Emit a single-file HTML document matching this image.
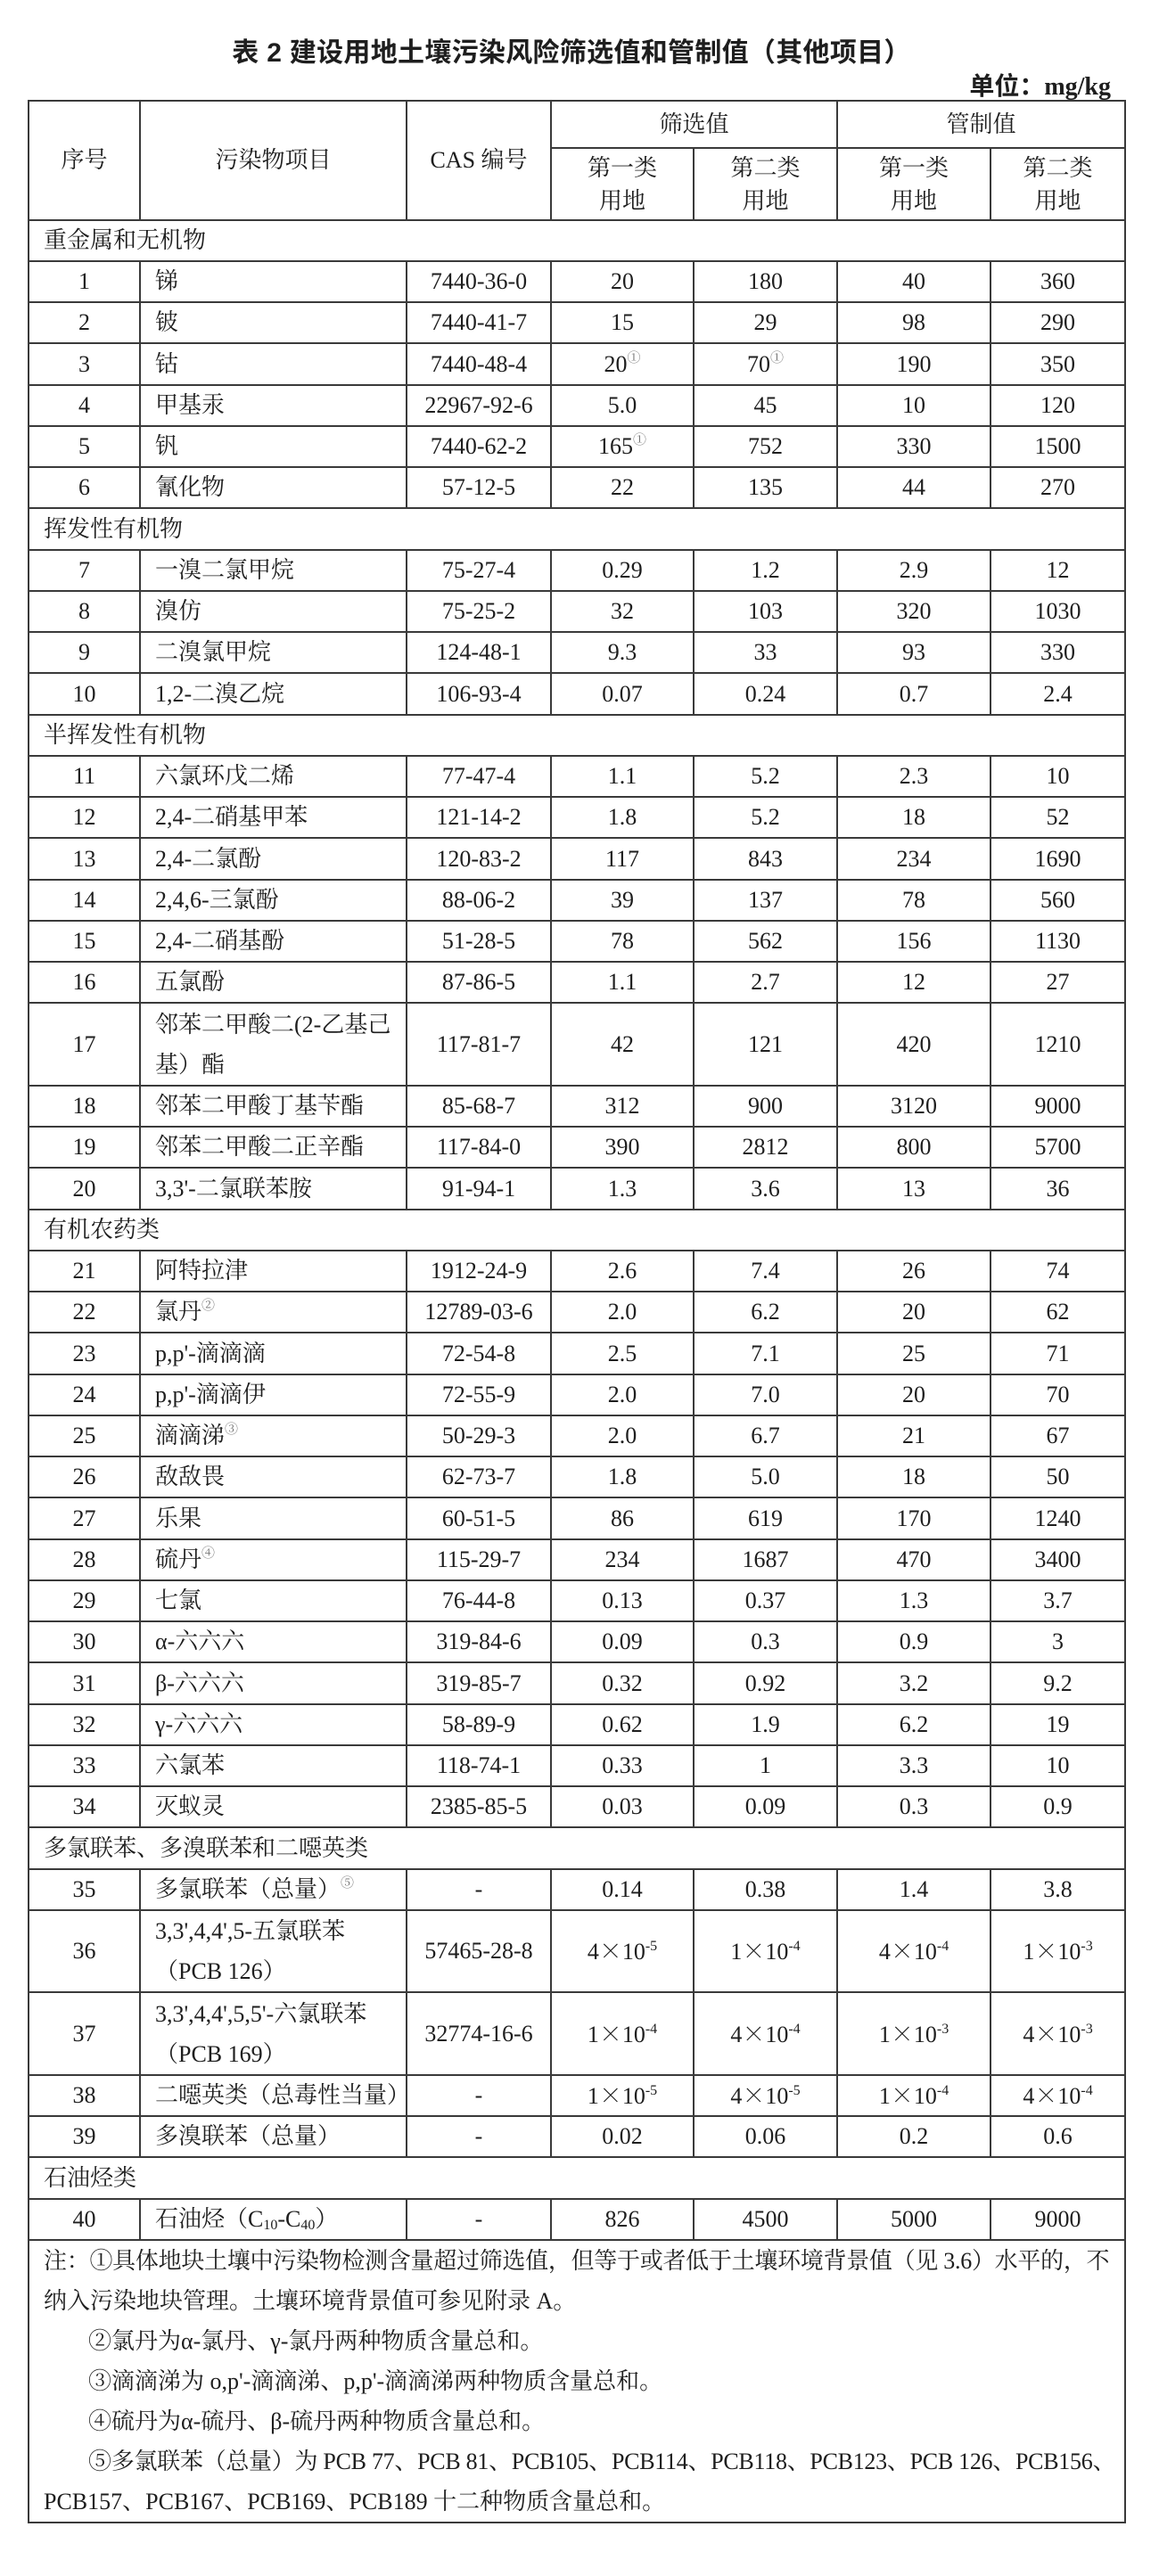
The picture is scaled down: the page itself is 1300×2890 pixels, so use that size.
<!DOCTYPE html>
<html lang="zh">
<head>
<meta charset="utf-8">
<style>
html,body{margin:0;padding:0;}
body{width:1300px;height:2890px;background:#fff;position:relative;overflow:hidden;
  font-family:"Liberation Serif","Noto Serif CJK SC",serif;color:#1e1e1e;}
.title{position:absolute;left:0;width:1282px;top:40px;text-align:center;
  font-family:"Liberation Sans","Noto Sans CJK SC",sans-serif;font-weight:bold;font-size:30px;line-height:40px;letter-spacing:0.3px;}
.unit{position:absolute;right:54px;top:78px;font-family:"Liberation Serif","Noto Sans CJK SC",serif;
  font-weight:bold;font-size:28px;line-height:40px;}
table{position:absolute;left:31px;top:112px;border-collapse:collapse;table-layout:fixed;width:1232px;font-size:26px;}
td{border:2px solid #3a3a3a;padding:0;text-align:center;vertical-align:middle;line-height:30px;white-space:nowrap;overflow:visible;}
td.n{text-align:left;padding-left:16px;}
td.sec{text-align:left;padding-left:16px;}
.h2 td{line-height:37px;}
sup.c{font-size:15px;line-height:0;vertical-align:11px;color:#6e6e6e;}
sup.e{font-size:16px;line-height:0;vertical-align:10px;}
sub{font-size:16px;line-height:0;vertical-align:-3px;}
.x{font-family:"Noto Serif CJK SC",serif;}
td.dbl{line-height:45px;}
td.notes{text-align:left;vertical-align:top;padding:0 0 0 16px;height:313px;}
.notes div{white-space:nowrap;height:45px;line-height:45px;overflow:visible;}
.ind{padding-left:50px;}
.tight{letter-spacing:-0.28px;}
</style>
</head>
<body>
<div class="title">表 2&nbsp;建设用地土壤污染风险筛选值和管制值（其他项目）</div>
<div class="unit">单位：mg/kg</div>
<table>
<colgroup>
<col style="width:125px"><col style="width:299px"><col style="width:162px"><col style="width:160px"><col style="width:161px"><col style="width:172px"><col style="width:151px">
</colgroup>
<tr style="height:53px">
<td rowspan="2">序号</td><td rowspan="2">污染物项目</td><td rowspan="2">CAS 编号</td>
<td colspan="2">筛选值</td><td colspan="2">管制值</td>
</tr>
<tr class="h2" style="height:81px">
<td>第一类<br>用地</td><td>第二类<br>用地</td><td>第一类<br>用地</td><td>第二类<br>用地</td>
</tr>
<tr style="height:46px"><td colspan="7" class="sec">重金属和无机物</td></tr>
<tr style="height:46px"><td>1</td><td class="n">锑</td><td>7440-36-0</td><td>20</td><td>180</td><td>40</td><td>360</td></tr>
<tr style="height:46px"><td>2</td><td class="n">铍</td><td>7440-41-7</td><td>15</td><td>29</td><td>98</td><td>290</td></tr>
<tr style="height:47px"><td>3</td><td class="n">钴</td><td>7440-48-4</td><td>20<sup class="c">①</sup></td><td>70<sup class="c">①</sup></td><td>190</td><td>350</td></tr>
<tr style="height:46px"><td>4</td><td class="n">甲基汞</td><td>22967-92-6</td><td>5.0</td><td>45</td><td>10</td><td>120</td></tr>
<tr style="height:46px"><td>5</td><td class="n">钒</td><td>7440-62-2</td><td>165<sup class="c">①</sup></td><td>752</td><td>330</td><td>1500</td></tr>
<tr style="height:46px"><td>6</td><td class="n">氰化物</td><td>57-12-5</td><td>22</td><td>135</td><td>44</td><td>270</td></tr>
<tr style="height:47px"><td colspan="7" class="sec">挥发性有机物</td></tr>
<tr style="height:46px"><td>7</td><td class="n">一溴二氯甲烷</td><td>75-27-4</td><td>0.29</td><td>1.2</td><td>2.9</td><td>12</td></tr>
<tr style="height:46px"><td>8</td><td class="n">溴仿</td><td>75-25-2</td><td>32</td><td>103</td><td>320</td><td>1030</td></tr>
<tr style="height:46px"><td>9</td><td class="n">二溴氯甲烷</td><td>124-48-1</td><td>9.3</td><td>33</td><td>93</td><td>330</td></tr>
<tr style="height:47px"><td>10</td><td class="n">1,2-二溴乙烷</td><td>106-93-4</td><td>0.07</td><td>0.24</td><td>0.7</td><td>2.4</td></tr>
<tr style="height:46px"><td colspan="7" class="sec">半挥发性有机物</td></tr>
<tr style="height:46px"><td>11</td><td class="n">六氯环戊二烯</td><td>77-47-4</td><td>1.1</td><td>5.2</td><td>2.3</td><td>10</td></tr>
<tr style="height:46px"><td>12</td><td class="n">2,4-二硝基甲苯</td><td>121-14-2</td><td>1.8</td><td>5.2</td><td>18</td><td>52</td></tr>
<tr style="height:47px"><td>13</td><td class="n">2,4-二氯酚</td><td>120-83-2</td><td>117</td><td>843</td><td>234</td><td>1690</td></tr>
<tr style="height:46px"><td>14</td><td class="n">2,4,6-三氯酚</td><td>88-06-2</td><td>39</td><td>137</td><td>78</td><td>560</td></tr>
<tr style="height:46px"><td>15</td><td class="n">2,4-二硝基酚</td><td>51-28-5</td><td>78</td><td>562</td><td>156</td><td>1130</td></tr>
<tr style="height:46px"><td>16</td><td class="n">五氯酚</td><td>87-86-5</td><td>1.1</td><td>2.7</td><td>12</td><td>27</td></tr>
<tr style="height:93px"><td>17</td><td class="n dbl">邻苯二甲酸二(2-乙基己<br>基）酯</td><td>117-81-7</td><td>42</td><td>121</td><td>420</td><td>1210</td></tr>
<tr style="height:46px"><td>18</td><td class="n">邻苯二甲酸丁基苄酯</td><td>85-68-7</td><td>312</td><td>900</td><td>3120</td><td>9000</td></tr>
<tr style="height:46px"><td>19</td><td class="n">邻苯二甲酸二正辛酯</td><td>117-84-0</td><td>390</td><td>2812</td><td>800</td><td>5700</td></tr>
<tr style="height:47px"><td>20</td><td class="n">3,3'-二氯联苯胺</td><td>91-94-1</td><td>1.3</td><td>3.6</td><td>13</td><td>36</td></tr>
<tr style="height:46px"><td colspan="7" class="sec">有机农药类</td></tr>
<tr style="height:46px"><td>21</td><td class="n">阿特拉津</td><td>1912-24-9</td><td>2.6</td><td>7.4</td><td>26</td><td>74</td></tr>
<tr style="height:46px"><td>22</td><td class="n">氯丹<sup class="c">②</sup></td><td>12789-03-6</td><td>2.0</td><td>6.2</td><td>20</td><td>62</td></tr>
<tr style="height:47px"><td>23</td><td class="n">p,p'-滴滴滴</td><td>72-54-8</td><td>2.5</td><td>7.1</td><td>25</td><td>71</td></tr>
<tr style="height:46px"><td>24</td><td class="n">p,p'-滴滴伊</td><td>72-55-9</td><td>2.0</td><td>7.0</td><td>20</td><td>70</td></tr>
<tr style="height:46px"><td>25</td><td class="n">滴滴涕<sup class="c">③</sup></td><td>50-29-3</td><td>2.0</td><td>6.7</td><td>21</td><td>67</td></tr>
<tr style="height:46px"><td>26</td><td class="n">敌敌畏</td><td>62-73-7</td><td>1.8</td><td>5.0</td><td>18</td><td>50</td></tr>
<tr style="height:47px"><td>27</td><td class="n">乐果</td><td>60-51-5</td><td>86</td><td>619</td><td>170</td><td>1240</td></tr>
<tr style="height:46px"><td>28</td><td class="n">硫丹<sup class="c">④</sup></td><td>115-29-7</td><td>234</td><td>1687</td><td>470</td><td>3400</td></tr>
<tr style="height:46px"><td>29</td><td class="n">七氯</td><td>76-44-8</td><td>0.13</td><td>0.37</td><td>1.3</td><td>3.7</td></tr>
<tr style="height:46px"><td>30</td><td class="n">α-六六六</td><td>319-84-6</td><td>0.09</td><td>0.3</td><td>0.9</td><td>3</td></tr>
<tr style="height:47px"><td>31</td><td class="n">β-六六六</td><td>319-85-7</td><td>0.32</td><td>0.92</td><td>3.2</td><td>9.2</td></tr>
<tr style="height:46px"><td>32</td><td class="n">γ-六六六</td><td>58-89-9</td><td>0.62</td><td>1.9</td><td>6.2</td><td>19</td></tr>
<tr style="height:46px"><td>33</td><td class="n">六氯苯</td><td>118-74-1</td><td>0.33</td><td>1</td><td>3.3</td><td>10</td></tr>
<tr style="height:46px"><td>34</td><td class="n">灭蚁灵</td><td>2385-85-5</td><td>0.03</td><td>0.09</td><td>0.3</td><td>0.9</td></tr>
<tr style="height:47px"><td colspan="7" class="sec">多氯联苯、多溴联苯和二噁英类</td></tr>
<tr style="height:46px"><td>35</td><td class="n">多氯联苯（总量）<sup class="c">⑤</sup></td><td>-</td><td>0.14</td><td>0.38</td><td>1.4</td><td>3.8</td></tr>
<tr style="height:92px"><td>36</td><td class="n dbl">3,3',4,4',5-五氯联苯<br>（PCB 126）</td><td>57465-28-8</td><td>4<span class="x">×</span>10<sup class="e">-5</sup></td><td>1<span class="x">×</span>10<sup class="e">-4</sup></td><td>4<span class="x">×</span>10<sup class="e">-4</sup></td><td>1<span class="x">×</span>10<sup class="e">-3</sup></td></tr>
<tr style="height:93px"><td>37</td><td class="n dbl">3,3',4,4',5,5'-六氯联苯<br>（PCB 169）</td><td>32774-16-6</td><td>1<span class="x">×</span>10<sup class="e">-4</sup></td><td>4<span class="x">×</span>10<sup class="e">-4</sup></td><td>1<span class="x">×</span>10<sup class="e">-3</sup></td><td>4<span class="x">×</span>10<sup class="e">-3</sup></td></tr>
<tr style="height:46px"><td>38</td><td class="n">二噁英类（总毒性当量）</td><td>-</td><td>1<span class="x">×</span>10<sup class="e">-5</sup></td><td>4<span class="x">×</span>10<sup class="e">-5</sup></td><td>1<span class="x">×</span>10<sup class="e">-4</sup></td><td>4<span class="x">×</span>10<sup class="e">-4</sup></td></tr>
<tr style="height:46px"><td>39</td><td class="n">多溴联苯（总量）</td><td>-</td><td>0.02</td><td>0.06</td><td>0.2</td><td>0.6</td></tr>
<tr style="height:47px"><td colspan="7" class="sec">石油烃类</td></tr>
<tr style="height:46px"><td>40</td><td class="n">石油烃（C<sub>10</sub>-C<sub>40</sub>）</td><td>-</td><td>826</td><td>4500</td><td>5000</td><td>9000</td></tr>
<tr style="height:315px"><td colspan="7" class="notes">
<div class="tight">注：①具体地块土壤中污染物检测含量超过筛选值，但等于或者低于土壤环境背景值（见 3.6）水平的，不</div>
<div>纳入污染地块管理。土壤环境背景值可参见附录 A。</div>
<div class="ind">②氯丹为α-氯丹、γ-氯丹两种物质含量总和。</div>
<div class="ind">③滴滴涕为 o,p'-滴滴涕、p,p'-滴滴涕两种物质含量总和。</div>
<div class="ind">④硫丹为α-硫丹、β-硫丹两种物质含量总和。</div>
<div class="ind tight">⑤多氯联苯（总量）为 PCB 77、PCB 81、PCB105、PCB114、PCB118、PCB123、PCB 126、PCB156、</div>
<div>PCB157、PCB167、PCB169、PCB189 十二种物质含量总和。</div>
</td></tr>
</table>
</body>
</html>
